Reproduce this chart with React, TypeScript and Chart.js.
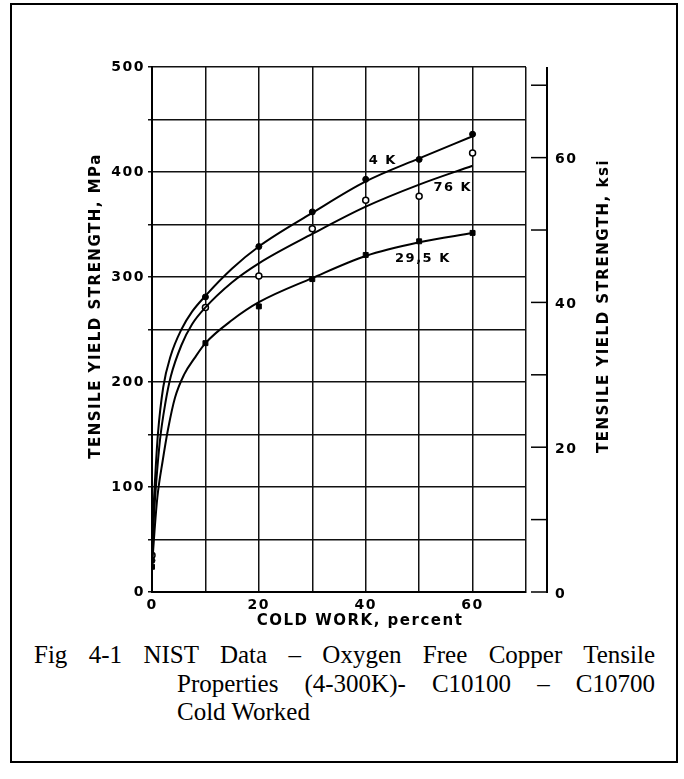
import React, { useEffect, useRef } from "react";
import { Chart, registerables } from "chart.js";

Chart.register(...registerables);

// Cold work, percent
const coldWork = [0, 10, 20, 30, 40, 50, 60];
// Measured tensile yield strength, MPa
const points4K = [30, 281, 329, 362, 393, 412, 436];
const points76K = [35, 271, 301, 346, 373, 377, 418];
const points295K = [24, 237, 272, 298, 321, 334, 342];

// Fitted curves (cold work %, MPa)
const curve4KX = [0, 0.3, 0.6, 1.1, 2.1, 3.5, 5.5, 7.5, 10, 15, 20, 30, 40, 50, 60];
const curve4KY = [30, 80, 110, 150, 195, 225, 250, 267, 282, 308, 329, 361, 391, 413, 434];
const curve76KX = [0, 0.4, 0.8, 1.5, 2.5, 3.5, 5.5, 7.5, 10, 15, 20, 30, 40, 50, 60];
const curve76KY = [35, 75, 105, 145, 180, 205, 235, 255, 271, 295, 313, 341, 367, 388, 406];
const curve295KX = [0, 0.5, 1, 2, 3, 4.3, 6, 8, 10, 15, 20, 30, 40, 50, 60];
const curve295KY = [24, 60, 90, 125, 155, 185, 207, 223, 237, 259, 276, 299, 320, 333, 342];

// Curve labels: text, cold work %, MPa
const labelText = ["4 K", "76 K", "29,5 K"];
const labelX = [43.2, 56.3, 50.7];
const labelY = [411, 385, 317.5];

// Axis ranges and ticks
const xMax = 70;
const xStep = 10;
const xLabelTicks = [0, 20, 40, 60];
const yMax = 500;
const yStep = 50;
const yLabelTicks = [0, 100, 200, 300, 400, 500];
const mpaPerKsi = 6.895;
const ksiStep = 10;
const ksiLabelTicks = [0, 20, 40, 60];

const xTitle = "COLD WORK, percent";
const yTitle = "TENSILE YIELD STRENGTH, MPa";
const y2Title = "TENSILE YIELD STRENGTH, ksi";
const captionLines = [
  "Fig 4-1 NIST Data \u2013 Oxygen Free Copper Tensile",
  "Properties (4-300K)- C10100 \u2013 C10700",
  "Cold Worked",
];

const FONT = '"DejaVu Sans", sans-serif';

function zip(xs: number[], ys: number[]) {
  return xs.map((x, i) => ({ x, y: ys[i] }));
}

const spacingPlugin = {
  id: "spacing",
  beforeDraw(chart: any) {
    (chart.ctx as any).letterSpacing = "1.5px";
  },
};

const overlayPlugin = {
  id: "overlay",
  afterDraw(chart: any) {
    const ctx = chart.ctx as CanvasRenderingContext2D;
    const area = chart.chartArea;
    const xs = chart.scales.x;
    const ys = chart.scales.y;
    const y2 = chart.scales.y2;
    ctx.save();
    (ctx as any).letterSpacing = "1.5px";
    ctx.fillStyle = "#000";
    ctx.strokeStyle = "#000";

    // Right-hand ksi axis, drawn through the y2 scale
    const axX = area.right + 21;
    ctx.lineWidth = 2;
    ctx.beginPath();
    ctx.moveTo(axX, y2.getPixelForValue(0) + 1);
    ctx.lineTo(axX, y2.getPixelForValue(y2.max));
    ctx.stroke();
    ctx.font = `bold 14px ${FONT}`;
    ctx.textAlign = "left";
    ctx.textBaseline = "middle";
    for (const t of y2.ticks) {
      if (t.value % ksiStep !== 0) continue;
      const py = y2.getPixelForValue(t.value);
      ctx.lineWidth = 1.5;
      ctx.beginPath();
      ctx.moveTo(axX - 16, py);
      ctx.lineTo(axX, py);
      ctx.stroke();
      if (ksiLabelTicks.includes(t.value)) {
        ctx.fillText(String(t.value), axX + 8, py + 2);
      }
    }

    // Curve labels
    ctx.font = `bold 13px ${FONT}`;
    ctx.textAlign = "center";
    for (let i = 0; i < labelText.length; i++) {
      ctx.fillText(labelText[i], xs.getPixelForValue(labelX[i]), ys.getPixelForValue(labelY[i]));
    }

    // Axis titles
    ctx.font = `bold 15px ${FONT}`;
    ctx.textAlign = "center";
    ctx.fillText(xTitle, 360, area.bottom + 29);

    const titleCy = 306;
    ctx.save();
    ctx.translate(96, titleCy);
    ctx.rotate(-Math.PI / 2);
    ctx.fillText(yTitle, 0, 0);
    ctx.restore();

    ctx.save();
    ctx.translate(604, titleCy);
    ctx.rotate(-Math.PI / 2);
    ctx.fillText(y2Title, 0, 0);
    ctx.restore();

    ctx.restore();
  },
};

export default function App() {
  const ref = useRef<HTMLCanvasElement | null>(null);

  useEffect(() => {
    if (!ref.current) return;
    const curveStyle = {
      type: "line" as const,
      showLine: true,
      borderColor: "#000",
      borderWidth: 2,
      pointRadius: 0,
      cubicInterpolationMode: "monotone" as const,
      fill: false,
    };
    const chart = new Chart(ref.current, {
      type: "scatter",
      data: {
        datasets: [
          { ...curveStyle, label: "4 K fit", data: zip(curve4KX, curve4KY) },
          { ...curveStyle, label: "76 K fit", data: zip(curve76KX, curve76KY) },
          { ...curveStyle, label: "295 K fit", data: zip(curve295KX, curve295KY) },
          {
            label: "4 K",
            data: zip(coldWork, points4K),
            pointStyle: "circle",
            pointRadius: 3,
            backgroundColor: "#000",
            borderColor: "#000",
            borderWidth: 1,
          },
          {
            label: "76 K",
            data: zip(coldWork, points76K),
            pointStyle: "circle",
            pointRadius: 3,
            backgroundColor: "#fff",
            borderColor: "#000",
            borderWidth: 1.5,
          },
          {
            label: "295 K",
            data: zip(coldWork, points295K),
            pointStyle: "rect",
            pointRadius: 3.5,
            backgroundColor: "#000",
            borderColor: "#000",
            borderWidth: 1,
          },
        ],
      },
      options: {
        animation: false,
        responsive: false,
        devicePixelRatio: 1,
        layout: { padding: { top: 67, left: 0, right: 0, bottom: 0 } },
        plugins: {
          legend: { display: false },
          tooltip: { enabled: false },
        },
        scales: {
          x: {
            type: "linear",
            min: 0,
            max: xMax,
            afterFit: (s: any) => {
              s.height = 48;
            },
            ticks: {
              stepSize: xStep,
              color: "#000",
              font: { family: FONT, weight: "bold", size: 14 },
              padding: 5,
              maxRotation: 0,
              autoSkip: false,
              callback: (v: any) => (xLabelTicks.includes(Number(v)) ? String(v) : ""),
            },
            grid: { color: "#111", lineWidth: 1.5, drawTicks: false },
            border: { color: "#000", width: 2 },
          },
          y: {
            type: "linear",
            position: "left",
            min: 0,
            max: yMax,
            afterFit: (s: any) => {
              s.width = 152;
            },
            ticks: {
              stepSize: yStep,
              color: "#000",
              font: { family: FONT, weight: "bold", size: 14 },
              padding: 3,
              autoSkip: false,
              callback: (v: any) => (yLabelTicks.includes(Number(v)) ? String(v) : ""),
            },
            grid: { color: "#111", lineWidth: 1.5, tickLength: 4 },
            border: { color: "#000", width: 2 },
          },
          y2: {
            type: "linear",
            position: "right",
            min: 0,
            max: yMax / mpaPerKsi,
            afterFit: (s: any) => {
              s.width = 158;
            },
            ticks: { stepSize: ksiStep, display: false, includeBounds: false },
            grid: { display: false },
            border: { display: false },
          },
        },
      },
      plugins: [spacingPlugin, overlayPlugin],
    });
    return () => chart.destroy();
  }, []);

  const captionStyle: React.CSSProperties = {
    fontFamily: '"Liberation Serif", "Times New Roman", serif',
    fontSize: 25,
    lineHeight: "28.5px",
    color: "#000",
    whiteSpace: "nowrap",
  };

  return (
    <div style={{ position: "absolute", left: 0, top: 0, width: 684, height: 779, background: "#fff" }}>
      <div
        style={{
          position: "absolute",
          left: 10,
          top: 3,
          width: 664,
          height: 756,
          border: "2px solid #000",
        }}
      />
      <canvas
        ref={ref}
        width={684}
        height={640}
        style={{ position: "absolute", left: 0, top: 0, width: 684, height: 640 }}
      />
      <div style={{ position: "absolute", left: 34, top: 641, width: 621 }}>
        <div style={{ ...captionStyle, textAlign: "justify", textAlignLast: "justify", whiteSpace: "normal" }}>
          {captionLines[0]}
        </div>
        <div
          style={{
            ...captionStyle,
            marginLeft: 143,
            textAlign: "justify",
            textAlignLast: "justify",
            whiteSpace: "normal",
          }}
        >
          {captionLines[1]}
        </div>
        <div style={{ ...captionStyle, marginLeft: 143 }}>{captionLines[2]}</div>
      </div>
    </div>
  );
}
